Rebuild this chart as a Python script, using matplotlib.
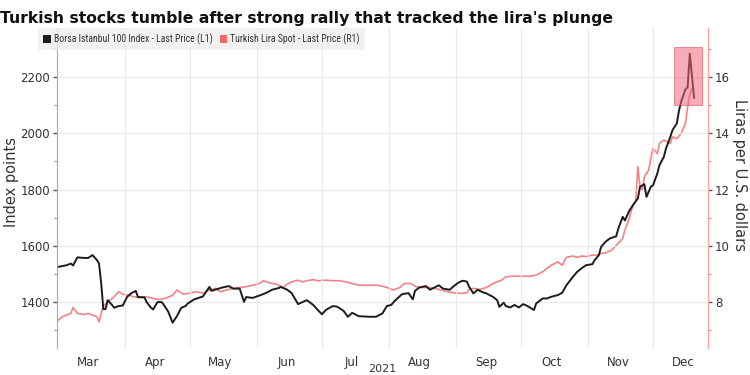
import matplotlib
matplotlib.use('Agg')
import matplotlib.pyplot as plt
import matplotlib.dates as mdates
from matplotlib.patches import Rectangle, Patch
from matplotlib.ticker import MultipleLocator, NullFormatter
from matplotlib import font_manager
import pandas as pd

title = "Turkish stocks tumble after strong rally that tracked the lira's plunge"
bist_label = "Borsa Istanbul 100 Index - Last Price (L1)"
lira_label = "Turkish Lira Spot - Last Price (R1)"
left_axis_label = "Index points"
right_axis_label = "Liras per U.S. dollars"
year_label = "2021"

bist_dates = [
    "2021-03-01", "2021-03-05", "2021-03-07", "2021-03-08", "2021-03-10", "2021-03-13",
    "2021-03-15", "2021-03-17", "2021-03-19", "2021-03-20", "2021-03-21", "2021-03-22",
    "2021-03-23", "2021-03-24", "2021-03-26", "2021-03-27", "2021-03-29", "2021-03-31",
    "2021-04-02", "2021-04-04", "2021-04-06", "2021-04-07", "2021-04-10", "2021-04-11",
    "2021-04-13", "2021-04-14", "2021-04-16", "2021-04-18", "2021-04-19", "2021-04-21",
    "2021-04-23", "2021-04-25", "2021-04-27", "2021-04-29", "2021-04-30", "2021-05-03",
    "2021-05-05", "2021-05-07", "2021-05-10", "2021-05-11", "2021-05-13", "2021-05-16",
    "2021-05-19", "2021-05-21", "2021-05-24", "2021-05-26", "2021-05-27", "2021-05-30",
    "2021-06-02", "2021-06-05", "2021-06-08", "2021-06-11", "2021-06-12", "2021-06-15",
    "2021-06-17", "2021-06-20", "2021-06-22", "2021-06-24", "2021-06-27", "2021-06-29",
    "2021-07-01", "2021-07-03", "2021-07-06", "2021-07-08", "2021-07-11", "2021-07-13",
    "2021-07-15", "2021-07-18", "2021-07-23", "2021-07-26", "2021-07-29", "2021-07-31",
    "2021-08-02", "2021-08-04", "2021-08-07", "2021-08-10", "2021-08-12", "2021-08-13",
    "2021-08-15", "2021-08-18", "2021-08-20", "2021-08-22", "2021-08-24", "2021-08-26",
    "2021-08-29", "2021-08-31", "2021-09-02", "2021-09-04", "2021-09-06", "2021-09-07",
    "2021-09-09", "2021-09-11", "2021-09-13", "2021-09-15", "2021-09-18", "2021-09-20",
    "2021-09-21", "2021-09-23", "2021-09-24", "2021-09-26", "2021-09-28", "2021-09-30",
    "2021-10-02", "2021-10-04", "2021-10-07", "2021-10-08", "2021-10-11", "2021-10-13",
    "2021-10-15", "2021-10-18", "2021-10-20", "2021-10-22", "2021-10-25", "2021-10-27",
    "2021-10-29", "2021-10-31", "2021-11-03", "2021-11-04", "2021-11-06", "2021-11-07",
    "2021-11-09", "2021-11-11", "2021-11-14", "2021-11-15", "2021-11-17", "2021-11-18",
    "2021-11-20", "2021-11-22", "2021-11-24", "2021-11-25", "2021-11-27", "2021-11-28",
    "2021-11-30", "2021-12-01", "2021-12-03", "2021-12-04", "2021-12-06", "2021-12-07",
    "2021-12-09", "2021-12-10", "2021-12-12", "2021-12-13", "2021-12-14", "2021-12-16",
    "2021-12-17", "2021-12-18", "2021-12-20",
]
bist_values = [
    1525, 1531, 1537, 1530, 1559, 1557,
    1557, 1567, 1550, 1537, 1467, 1375,
    1375, 1407, 1390, 1380, 1386, 1388,
    1419, 1432, 1440, 1418, 1417, 1400,
    1380, 1374, 1400, 1400, 1390, 1366,
    1327, 1350, 1380, 1386, 1395, 1410,
    1415, 1420, 1454, 1440, 1445, 1452,
    1457, 1448, 1448, 1401, 1418, 1415,
    1423, 1432, 1444, 1450, 1454, 1444,
    1432, 1393, 1400, 1407, 1390, 1373,
    1357, 1373, 1386, 1384, 1369, 1348,
    1362, 1350, 1348, 1348, 1360, 1386,
    1390, 1407, 1428, 1432, 1410, 1440,
    1452, 1457, 1444, 1452, 1460, 1448,
    1444, 1457, 1469, 1476, 1473, 1455,
    1431, 1444, 1436, 1431, 1419, 1407,
    1383, 1398, 1386, 1381, 1390, 1381,
    1393, 1386, 1372, 1395, 1413, 1413,
    1419, 1425, 1433, 1460, 1490, 1508,
    1520, 1531, 1535, 1549, 1567, 1596,
    1614, 1626, 1634, 1662, 1703, 1690,
    1724, 1748, 1768, 1810, 1819, 1774,
    1810, 1815, 1857, 1887, 1916, 1946,
    1987, 2011, 2035, 2080, 2112, 2156,
    2163, 2283, 2126,
]

lira_dates = [
    "2021-03-01", "2021-03-03", "2021-03-05", "2021-03-07", "2021-03-08", "2021-03-10",
    "2021-03-13", "2021-03-15", "2021-03-17", "2021-03-19", "2021-03-20", "2021-03-21",
    "2021-03-22", "2021-03-24", "2021-03-27", "2021-03-29", "2021-03-31", "2021-04-03",
    "2021-04-05", "2021-04-08", "2021-04-11", "2021-04-14", "2021-04-17", "2021-04-20",
    "2021-04-23", "2021-04-25", "2021-04-28", "2021-05-01", "2021-05-04", "2021-05-07",
    "2021-05-10", "2021-05-13", "2021-05-15", "2021-05-18", "2021-05-21", "2021-05-24",
    "2021-05-27", "2021-05-30", "2021-06-02", "2021-06-04", "2021-06-07", "2021-06-10",
    "2021-06-13", "2021-06-15", "2021-06-17", "2021-06-20", "2021-06-22", "2021-06-24",
    "2021-06-27", "2021-06-29", "2021-07-03", "2021-07-06", "2021-07-09", "2021-07-12",
    "2021-07-15", "2021-07-18", "2021-07-21", "2021-07-24", "2021-07-27", "2021-07-31",
    "2021-08-03", "2021-08-06", "2021-08-08", "2021-08-11", "2021-08-13", "2021-08-15",
    "2021-08-19", "2021-08-22", "2021-08-25", "2021-08-28", "2021-08-31", "2021-09-03",
    "2021-09-06", "2021-09-07", "2021-09-09", "2021-09-12", "2021-09-15", "2021-09-18",
    "2021-09-20", "2021-09-22", "2021-09-24", "2021-09-27", "2021-09-29", "2021-10-02",
    "2021-10-05", "2021-10-08", "2021-10-11", "2021-10-13", "2021-10-15", "2021-10-18",
    "2021-10-20", "2021-10-22", "2021-10-25", "2021-10-27", "2021-10-29", "2021-10-31",
    "2021-11-03", "2021-11-05", "2021-11-07", "2021-11-09", "2021-11-12", "2021-11-14",
    "2021-11-17", "2021-11-18", "2021-11-20", "2021-11-21", "2021-11-23", "2021-11-24",
    "2021-11-25", "2021-11-26", "2021-11-27", "2021-11-29", "2021-11-30", "2021-12-01",
    "2021-12-03", "2021-12-04", "2021-12-06", "2021-12-09", "2021-12-10", "2021-12-12",
    "2021-12-14", "2021-12-16", "2021-12-17", "2021-12-18", "2021-12-19",
]
lira_values = [
    7.34, 7.48, 7.54, 7.60, 7.81, 7.60,
    7.56, 7.60, 7.54, 7.48, 7.30, 7.60,
    7.86, 8.01, 8.19, 8.37, 8.28, 8.24,
    8.19, 8.16, 8.19, 8.13, 8.09, 8.15,
    8.24, 8.43, 8.28, 8.32, 8.37, 8.32,
    8.43, 8.49, 8.37, 8.43, 8.49, 8.52,
    8.55, 8.60, 8.66, 8.76, 8.68, 8.64,
    8.52, 8.64, 8.72, 8.78, 8.72, 8.76,
    8.80, 8.76, 8.78, 8.76, 8.76, 8.72,
    8.66, 8.60, 8.60, 8.60, 8.60, 8.52,
    8.43, 8.52, 8.66, 8.66, 8.57, 8.52,
    8.52, 8.49, 8.43, 8.37, 8.33, 8.31,
    8.33, 8.45, 8.49, 8.45, 8.52, 8.66,
    8.72, 8.78, 8.90, 8.92, 8.92, 8.92,
    8.92, 8.96, 9.08, 9.20, 9.31, 9.43,
    9.31, 9.59, 9.64, 9.59, 9.64, 9.62,
    9.67, 9.67, 9.73, 9.75, 9.85, 10.02,
    10.26, 10.56, 10.97, 11.27, 11.60, 12.81,
    12.10, 11.98, 12.45, 12.69, 13.10, 13.46,
    13.28, 13.64, 13.76, 13.64, 13.87, 13.81,
    13.99, 14.35, 14.94, 15.36, 15.60,
]

month_names = ["Mar", "Apr", "May", "Jun", "Jul", "Aug", "Sep", "Oct", "Nov", "Dec"]

bist_x = pd.to_datetime(bist_dates)
lira_x = pd.to_datetime(lira_dates)


def pick_font(candidates):
    for name in candidates:
        try:
            font_manager.findfont(font_manager.FontProperties(family=name),
                                  fallback_to_default=False)
            return name
        except Exception:
            continue
    return "DejaVu Sans"


NARROW = pick_font(["Liberation Sans Narrow", "DejaVu Sans Condensed", "Roboto Condensed"])
narrow_is_real = NARROW != "DejaVu Sans"

BLACK = "#1c1c1c"
PINK = "#f08484"
TEXT = "#333333"
GRID = "#e9e9e9"

fig = plt.figure(figsize=(7.5, 3.75), dpi=100)
ax = fig.add_axes([57 / 750, 1 - 348 / 375, 651 / 750, 320 / 375])
ax2 = ax.twinx()
ax.set_zorder(ax2.get_zorder() + 1)
ax.patch.set_visible(False)

ax2.plot(lira_x, lira_values, color=PINK, lw=1.2)
ax.plot(bist_x, bist_values, color=BLACK, lw=1.4)

x0 = pd.Timestamp("2021-02-28 14:00")
x1 = pd.Timestamp("2021-12-26 10:00")
ax.set_xlim(x0, x1)
ax.set_ylim(1237, 2374)
ax2.set_ylim(6.37, 17.74)

# highlight box
bx0 = mdates.date2num(pd.Timestamp("2021-12-10 17:00"))
bx1 = mdates.date2num(pd.Timestamp("2021-12-23 12:00"))
ax.add_patch(Rectangle((bx0, 2102), bx1 - bx0, 205, facecolor="#f26a7c", alpha=0.55,
                       edgecolor="#d84a5c", lw=0.8, zorder=5))

# x axis: gridlines at month starts, labels mid-month
ax.xaxis.set_major_locator(mdates.MonthLocator(bymonth=range(4, 13)))
ax.xaxis.set_major_formatter(NullFormatter())
ax.xaxis.set_minor_locator(mdates.MonthLocator(bymonthday=15))
ax.xaxis.set_minor_formatter(mdates.DateFormatter("%b"))
ax.tick_params(axis="x", which="both", length=0, labelsize=8.5, labelcolor=TEXT, pad=6)

ax.set_yticks([1400, 1600, 1800, 2000, 2200])
ax.yaxis.set_minor_locator(MultipleLocator(100))
ax.tick_params(axis="y", which="major", length=3, width=1, color="#555555",
               labelsize=8.5, labelcolor=TEXT, pad=2)
ax.tick_params(axis="y", which="minor", length=2, width=0.8, color="#999999")

ax2.set_yticks([8, 10, 12, 14, 16])
ax2.yaxis.set_minor_locator(MultipleLocator(1))
ax2.tick_params(axis="y", which="major", length=3, width=1, color="#555555",
                labelsize=8.5, labelcolor=TEXT, pad=2)
ax2.tick_params(axis="y", which="minor", length=2, width=0.8, color="#999999")

ax.grid(True, which="major", axis="both", color=GRID, lw=0.9)
ax.set_axisbelow(True)

for a in (ax, ax2):
    for s in ("top", "bottom"):
        a.spines[s].set_visible(False)
ax.spines["right"].set_visible(False)
ax2.spines["left"].set_visible(False)
ax.spines["left"].set_color("#aaaaaa")
ax.spines["left"].set_linewidth(0.8)
ax2.spines["right"].set_color("#f4a3a3")
ax2.spines["right"].set_linewidth(1.0)

fig.text(12 / 750, 1 - 182 / 375, left_axis_label, rotation=90, ha="center", va="center",
         fontsize=10.5, color=TEXT)
fig.text(740 / 750, 1 - 175 / 375, right_axis_label, rotation=270, ha="center", va="center",
         fontsize=10.5, color=TEXT)
fig.text(382 / 750, 1 - 364 / 375, year_label, ha="center", va="top", fontsize=8, color=TEXT)

fig.text(0.0, 1 - 23 / 375, title, ha="left", va="baseline", fontsize=11.25,
         fontweight="bold", color="#111111")

handles = [Patch(facecolor=BLACK, edgecolor="none"), Patch(facecolor="#f06a6a", edgecolor="none")]
leg_size = 7.0 if narrow_is_real else 5.8
leg = fig.legend(handles, [bist_label, lira_label], loc="upper left",
                 bbox_to_anchor=(38 / 750, 1 - 28 / 375), ncol=2,
                 prop={"family": [NARROW, "DejaVu Sans"], "size": leg_size},
                 frameon=True, fancybox=False, handlelength=0.8, handleheight=0.8,
                 handletextpad=0.3, columnspacing=0.7, borderpad=0.55, borderaxespad=0)
leg.get_frame().set_facecolor("#eeeeee")
leg.get_frame().set_edgecolor("none")
for t in leg.get_texts():
    t.set_color(TEXT)

fig.savefig("out.png", dpi=100)
